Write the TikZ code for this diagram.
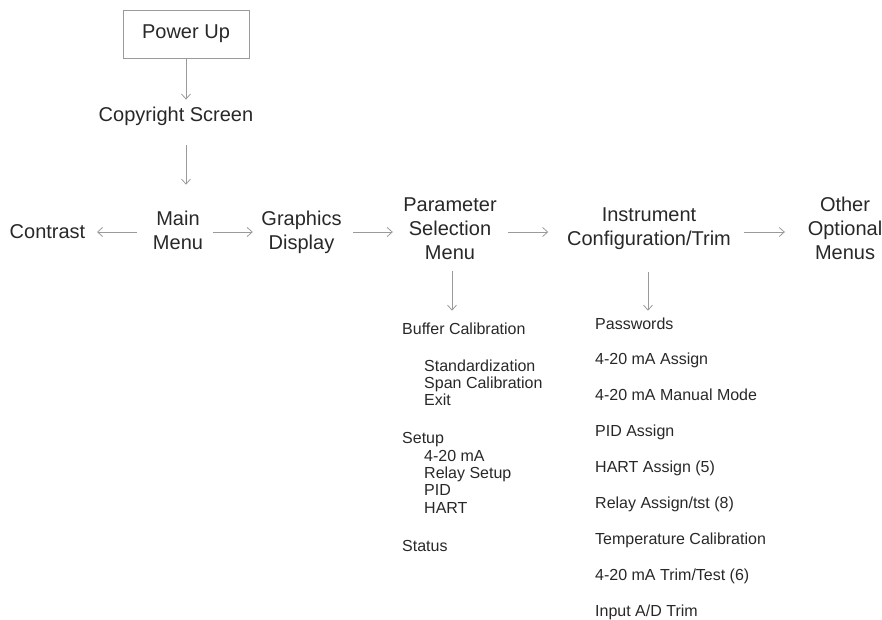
\documentclass[tikz,border=0pt]{standalone}
\usepackage{fontspec}
\setmainfont{Liberation Sans}
\usetikzlibrary{arrows.meta}
\definecolor{txt}{HTML}{282828}
\definecolor{lin}{HTML}{9A9A9A}
\begin{document}
\begin{tikzpicture}[x=1pt,y=-1pt,
  big/.style={inner sep=0pt, text=txt, font=\fontsize{20}{24}\selectfont, align=center},
  item/.style={inner sep=0pt, text=txt, font=\fontsize{16}{19}\selectfont, anchor=base west},
  boxnode/.style={big, draw=lin, line width=0.8pt, minimum width=126pt, minimum height=48pt},
  arr/.style={draw=lin, line width=0.8pt, -{Straight Barb[length=5pt,width=9pt]}}]
\useasboundingbox (0,0) rectangle (882,620);
% main chain
\node[boxnode] (power) at (186,34) {Power Up};
\node[big, anchor=base] (copy) at (176,122) {Copyright Screen};
\node[big] (contrast) at (47.5,232) {Contrast};
\node[big] (main) at (178,230) {Main\\Menu};
\node[big] (graphics) at (301.5,232) {Graphics\\Display};
\node[big] (param) at (450,228.8) {Parameter\\Selection\\Menu};
\node[big] (inst) at (649,229) {Instrument\\Configuration/Trim};
\node[big] (other) at (845,228.8) {Other\\Optional\\Menus};
% left list
\node[item] (bc) at (402,334) {Buffer Calibration};
\node[item] (std) at (424,371) {Standardization};
\node[item] (span) at (424,388) {Span Calibration};
\node[item] (exit) at (424,405) {Exit};
\node[item] (setup) at (402,443.5) {Setup};
\node[item] (ma) at (424,461) {4-20 mA};
\node[item] (relay) at (424,478.3) {Relay Setup};
\node[item] (pid) at (424,495.6) {PID};
\node[item] (hart) at (424,513) {HART};
\node[item] (status) at (402,551) {Status};
% right list
\node[item] (pw) at (595,329) {Passwords};
\node[item] (maa) at (595,364.9) {4-20 mA Assign};
\node[item] (mam) at (595,400.8) {4-20 mA Manual Mode};
\node[item] (pida) at (595,436.6) {PID Assign};
\node[item] (harta) at (595,472.5) {HART Assign (5)};
\node[item] (rat) at (595,508.4) {Relay Assign/tst (8)};
\node[item] (tc) at (595,544.3) {Temperature Calibration};
\node[item] (mtt) at (595,580.1) {4-20 mA Trim/Test (6)};
\node[item] (adt) at (595,616) {Input A/D Trim};
% connectors
\draw[arr, shorten >=7.7pt] (power.south) -- (copy.north -| power.south);
\draw[arr, shorten <=18.8pt, shorten >=25.8pt] (copy.south -| power.south) -- (main.north -| power.south);
\draw[arr, shorten <=16pt, shorten >=11.5pt] (main.west |- contrast.east) -- (contrast.east);
\draw[arr, shorten <=10pt, shorten >=8.5pt] (main.east |- contrast.east) -- (graphics.west |- contrast.east);
\draw[arr, shorten <=11.5pt, shorten >=10.3pt] (graphics.east |- contrast.east) -- (param.west |- contrast.east);
\draw[arr, shorten <=11.3pt, shorten >=18.7pt] (param.east |- contrast.east) -- (inst.west |- contrast.east);
\draw[arr, shorten <=12.7pt, shorten >=22.7pt] (inst.east |- contrast.east) -- (other.west |- contrast.east);
\draw[arr, shorten <=10.8pt, shorten >=11.5pt] ([xshift=2pt]param.south) -- ([xshift=2pt]param.south |- bc.north);
\draw[arr, shorten <=21.8pt, shorten >=6.5pt] ([xshift=-1pt]inst.south) -- ([xshift=-1pt]inst.south |- pw.north);
\end{tikzpicture}
\end{document}
